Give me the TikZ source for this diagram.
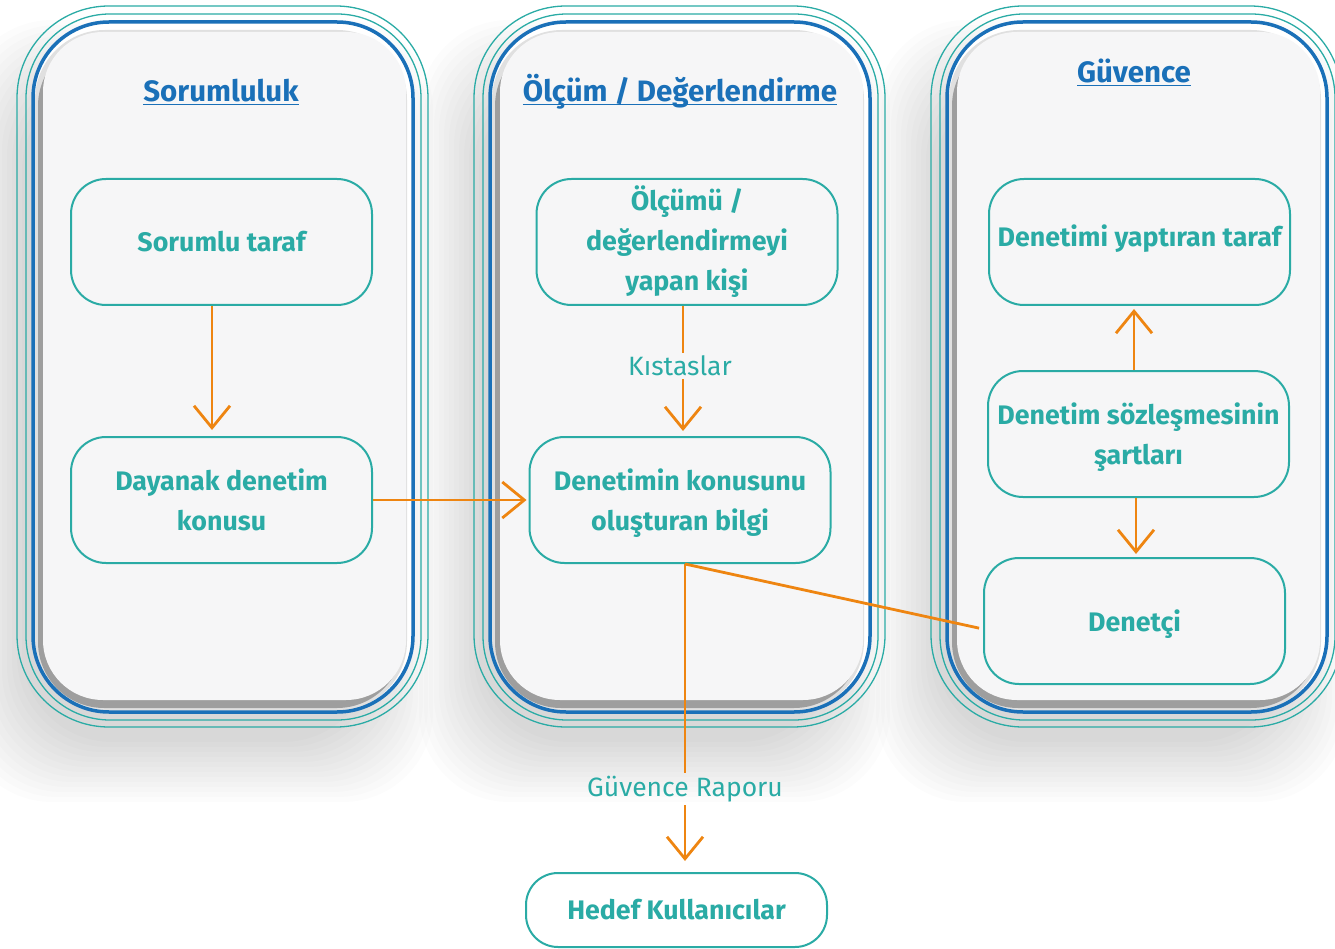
\documentclass[tikz,border=0pt]{standalone}
\usepackage{fontspec}
\setmainfont{Fira Sans}
\usetikzlibrary{arrows.meta}
\definecolor{tealc}{HTML}{2AABA5}
\definecolor{bluec}{HTML}{1A70B8}
\definecolor{orgc}{HTML}{EE8511}
\definecolor{pfill}{HTML}{F6F6F7}
\newcommand\myul[1]{\setbox0\hbox{#1}\rlap{\rule[-3.5pt]{\wd0}{1.6pt}}\box0}
\newcommand\panelshadow[1]{%
\begin{scope}[xshift=#1pt]
\foreach \k in {0,...,12}{
 \pgfmathsetmacro\e{5*\k-30}
 \fill[black,opacity=0.013,rounded corners=90pt] ({-41-\e},{50-\e}) rectangle ({370+\e},{772+\e});
}
\end{scope}}
\newcommand\panelbody[1]{%
\begin{scope}[xshift=#1pt]
\draw[tealc,line width=1.3pt,rounded corners=92pt] (-16,6) rectangle (395,727);
\draw[tealc,line width=1.3pt,rounded corners=84pt] (-7,14) rectangle (388,720);
\fill[white,rounded corners=76pt] (0,22) rectangle (380,712);
\fill[black!12,rounded corners=70pt] (2,30) rectangle (374,711);
\fill[black!38,rounded corners=66pt] (5,40) rectangle (370,708);
\fill[pfill,rounded corners=60pt] (10,32) rectangle (373,700);
\draw[bluec,line width=3.5pt,rounded corners=76pt] (0,22) rectangle (380,712);
\end{scope}}
\tikzset{
 box/.style={draw=tealc,line width=2pt,rounded corners=35pt,fill=pfill,text=tealc,
   font=\fontsize{26.8}{40}\selectfont\bfseries,align=center,inner sep=0pt,
   minimum width=301pt,minimum height=126pt},
 arr/.style={draw=orgc,line width=2.8pt,-{Straight Barb[length=22pt,width=36pt]}},
 ln/.style={draw=orgc,line width=2.8pt},
 lbl/.style={text=tealc,font=\fontsize{26.5}{30}\selectfont,inner sep=3pt},
 ttl/.style={text=bluec,font=\fontsize{29.5}{34}\selectfont\bfseries,anchor=base},
}
\begin{document}
\begin{tikzpicture}[x=1pt,y=-1pt]
\useasboundingbox (0,0) rectangle (1335,949);
\panelshadow{33}\panelshadow{490}\panelshadow{947}
\panelbody{33}\panelbody{490}\panelbody{947}

\node[ttl] (t1) at (221,102) {\myul{Sorumluluk}};
\node[ttl] (t2) at (680,102) {\myul{Ölçüm / Değerlendirme}};
\node[ttl] (t3) at (1134,83) {\myul{Güvence}};

\node[box] (n1) at (221.5,242) {Sorumlu taraf};
\node[box] (n2) at (221.5,500) {Dayanak denetim\\konusu};
\node[box] (n3) at (687,242) {Ölçümü /\\değerlendirmeyi\\yapan kişi};
\node[box,text depth=0pt] (n4) at (680,500) {Denetimin konusunu\\oluşturan bilgi};
\node[box,text depth=12pt] (n5) at (1139.5,242) {Denetimi yaptıran taraf};
\node[box,text depth=0pt] (n6) at (1138.5,434) {Denetim sözleşmesinin\\şartları};
\node[box,text depth=0pt] (n7) at (1134.5,621) {Denetçi};
\node[box,fill=white,minimum height=74pt,rounded corners=32pt,text depth=2pt] (n8) at (676.5,910) {Hedef Kullanıcılar};

\node[lbl] (k1) at (680,366) {Kıstaslar};
\node[lbl] (k2) at (685,789) {Güvence Raporu};

\draw[arr,shorten >=6pt] ([xshift=-9.5pt]n1.south) -- ([xshift=-9.5pt]n2.north);
\draw[arr,shorten >=2pt] (n2.east) -- (n4.west);
\draw[ln] ([xshift=-4pt]n3.south) -- ([xshift=3pt]k1.north);
\draw[arr,shorten >=5pt] ([xshift=3pt]k1.south) -- ([xshift=3pt]n4.north);
\draw[ln,shorten >=4pt] ([xshift=5pt]n4.south) -- ([yshift=-8pt]n7.west);
\draw[ln] ([xshift=5pt]n4.south) -- (k2.north);
\draw[arr,shorten >=11pt] (k2.south) -- ([xshift=8.5pt]n8.north);
\draw[arr,shorten >=3pt] ([xshift=-4.5pt]n6.north) -- ([xshift=-5.5pt]n5.south);
\draw[arr,shorten >=3pt] ([xshift=-2.5pt]n6.south) -- ([xshift=1.5pt]n7.north);
\end{tikzpicture}
\end{document}
